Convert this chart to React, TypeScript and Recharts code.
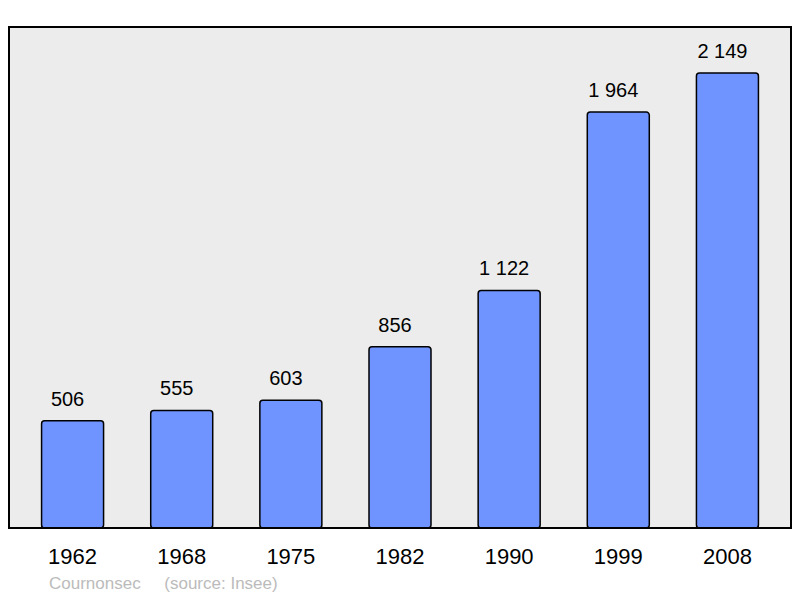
import {
  BarChart,
  Bar,
  XAxis,
  YAxis,
  CartesianGrid,
  LabelList,
} from "recharts";

const YEARS = ["1962", "1968", "1975", "1982", "1990", "1999", "2008"];
const POPULATION = [506, 555, 603, 856, 1122, 1964, 2149];

const Y_MAX = 2366;

const data = YEARS.map((year, i) => ({ year, population: POPULATION[i] }));

// french style thousands, non-breaking so the label doesn't wrap
const formatValue = (v: unknown) =>
  String(v).replace(/\B(?=(\d{3})+(?!\d))/g, "\u00a0");

const FONT = "'Liberation Sans', Arial, sans-serif";

// the frame round the plot is drawn with the axis lines
const frameLine = { stroke: "#000", strokeWidth: 2, strokeLinecap: "square" as const };

export default function App() {
  return (
    <div style={{ position: "absolute", left: 0, top: 0, width: 800, height: 598 }}>
      <BarChart
        width={800}
        height={598}
        data={data}
        margin={{ top: 26, right: 8, bottom: 40, left: 8 }}
        barCategoryGap="21.6%"
      >
        <CartesianGrid
          horizontal={false}
          vertical={false}
          fill="#ececec"
          fillOpacity={1}
        />
        <XAxis
          dataKey="year"
          axisLine={frameLine}
          tickLine={false}
          tickMargin={14}
          padding={{ left: 9, right: 9 }}
          tick={{ fill: "#000", fontSize: 22, fontFamily: FONT }}
        />
        <XAxis
          xAxisId="top"
          orientation="top"
          dataKey="year"
          height={1}
          axisLine={frameLine}
          tickLine={false}
          tick={false}
          padding={{ left: 9, right: 9 }}
        />
        <YAxis
          width={1}
          domain={[0, Y_MAX]}
          axisLine={frameLine}
          tickLine={false}
          tick={false}
        />
        <YAxis
          yAxisId="right"
          orientation="right"
          width={1}
          domain={[0, Y_MAX]}
          axisLine={frameLine}
          tickLine={false}
          tick={false}
        />
        <Bar
          dataKey="population"
          fill="#7094ff"
          stroke="#000"
          strokeWidth={1.5}
          radius={3}
          isAnimationActive={false}
        >
          <LabelList
            dataKey="population"
            position="top"
            offset={15}
            dx={-5}
            formatter={formatValue}
            style={{ fill: "#000", fontSize: 20, fontFamily: FONT }}
          />
        </Bar>
      </BarChart>
      <div
        style={{
          position: "absolute",
          left: 49,
          top: 574,
          fontFamily: FONT,
          fontSize: 17,
          color: "#bbbbbb",
          whiteSpace: "pre",
        }}
      >
        {"Cournonsec     (source: Insee)"}
      </div>
    </div>
  );
}
